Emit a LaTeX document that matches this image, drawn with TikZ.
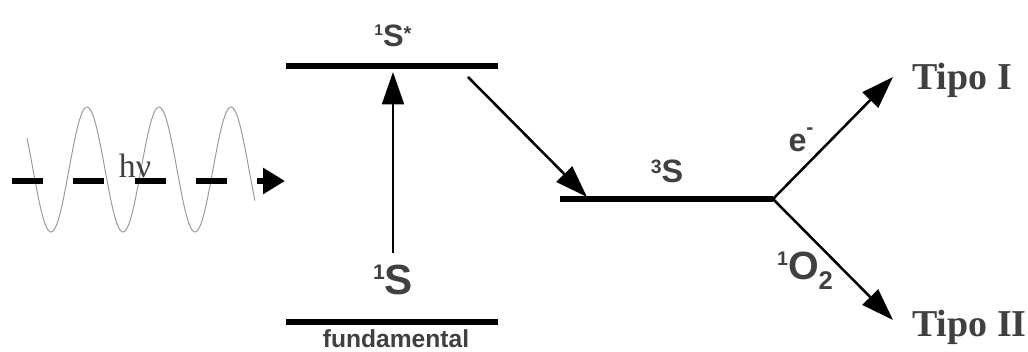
\documentclass[tikz,border=0pt]{standalone}
\usepackage{fontspec}
\setmainfont{Liberation Sans}
\newfontfamily\serifa{Liberation Serif}
\usetikzlibrary{arrows.meta}
\definecolor{texto}{HTML}{404040}
\newcommand{\alto}[3][0.5]{\raisebox{#2}{\scalebox{#1}{#3}}}

\begin{document}
\begin{tikzpicture}[
    x=0.025cm, y=-0.025cm,
    nivel/.style={draw=black, line width=4.3pt},
    seta/.style={draw=black, line width=1.8pt, -{Triangle[length=23pt, width=15.5pt]}},
    onda/.style={draw=black!40, line width=0.7pt},
    rotulo/.style={anchor=base, text=texto, inner sep=0pt, font=\bfseries},
    tipo/.style={anchor=base west, text=texto, inner sep=0pt, font=\serifa\bfseries\fontsize{27}{32}\selectfont}
]
\useasboundingbox (0,0) rectangle (1028,352);

% Coordenadas dos níveis de energia
\coordinate (s1a) at (286,66);
\coordinate (s1b) at (498,66);
\coordinate (s0a) at (286,322);
\coordinate (s0b) at (498,322);
\coordinate (t1a) at (560,199);
\coordinate (t1b) at (773,199);

% Coordenadas das pontas das setas
\coordinate (luzA) at (12,181);
\coordinate (luzB) at (285,181);
\coordinate (excA) at (393,253);
\coordinate (excB) at (393,72);
\coordinate (iscA) at (468,77);
\coordinate (iscB) at (587,197);
\coordinate (tipo1) at (893,77);
\coordinate (tipo2) at (893,320);

% Onda da luz incidente
\draw[onda] plot[domain=27:255, samples=200, smooth] (\x, {169.5 - 62.5*cos(5*(\x-87))});
\draw[draw=black, line width=4.3pt, dash pattern=on 22pt off 21.6pt,
      -{Triangle[length=15.6pt, width=17.8pt]}] (luzA) -- (luzB);

% Níveis de energia
\draw[nivel] (s1a) -- (s1b);
\draw[nivel] (s0a) -- (s0b);
\draw[nivel] (t1a) -- (t1b);

% Setas entre os estados
\draw[seta] (excA) -- (excB);
\draw[seta] (iscA) -- (iscB);
\draw[seta] (t1b) -- (tipo1);
\draw[seta] (t1b) -- (tipo2);

% Rótulos dos estados
\node[text=texto, anchor=base, inner sep=0pt, font=\serifa\fontsize{24}{28}\selectfont] (nhv) at (135,178) {hν};
\node[rotulo, font=\bfseries\fontsize{22}{26}\selectfont] (nS1) at (393,47) {\alto{0.36em}{1}S\alto[0.65]{0.22em}{*}};
\node[rotulo, font=\bfseries\fontsize{30}{36}\selectfont] (nS0) at (393,295) {\alto{0.36em}{1}S};
\node[rotulo, font=\bfseries\fontsize{17.5}{21}\selectfont] (nfund) at (396,348) {fundamental};
\node[rotulo, font=\bfseries\fontsize{23}{28}\selectfont] (nT1) at (667,183) {\alto[0.6]{0.29em}{3}S};
\node[rotulo, font=\bfseries\fontsize{23}{28}\selectfont] (ne) at (801,152) {e\alto[0.65]{0.55em}{-}};
\node[rotulo, font=\bfseries\fontsize{28}{34}\selectfont] (nO2) at (805,280) {\alto{0.36em}{1}O\raisebox{-0.25em}{\scalebox{0.65}{2}}};
\node[tipo] (ntipo1) at (912,90) {Tipo I};
\node[tipo] (ntipo2) at (912,337) {Tipo II};

\end{tikzpicture}
\end{document}
